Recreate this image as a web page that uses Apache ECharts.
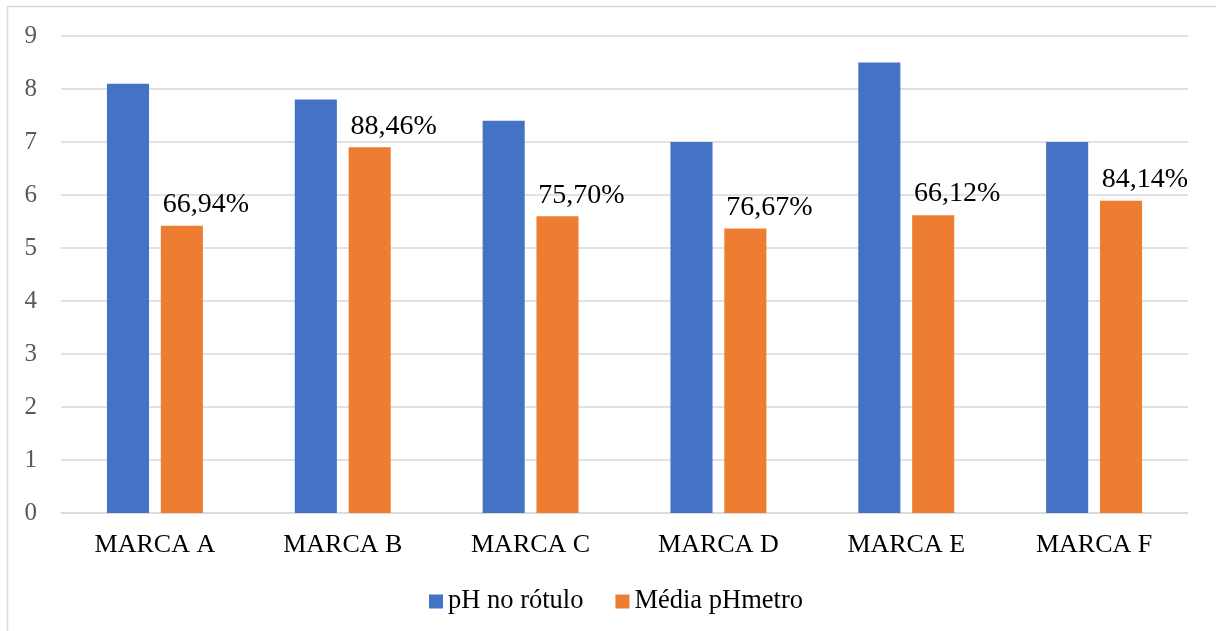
<!DOCTYPE html>
<html>
<head>
<meta charset="utf-8">
<script src="https://cdn.jsdelivr.net/npm/echarts@6/dist/echarts.min.js"></script>
<style>
  html, body { margin: 0; padding: 0; background: #fff; }
  #chart { width: 1216px; height: 631px; }
</style>
</head>
<body>
<div id="chart"></div>
<script>
// Brands compared
const categories = ['MARCA A', 'MARCA B', 'MARCA C', 'MARCA D', 'MARCA E', 'MARCA F'];
// pH declared on the label
const phRotulo = [8.1, 7.8, 7.4, 7.0, 8.5, 7.0];
// Mean pH measured with the pH meter
const phMedido = [5.42, 6.9, 5.6, 5.37, 5.62, 5.89];
// Measured as a share of the declared value
const percentLabels = ['66,94%', '88,46%', '75,70%', '76,67%', '66,12%', '84,14%'];
const yTicks = [0, 1, 2, 3, 4, 5, 6, 7, 8, 9];

const serif = '"Liberation Serif", "DejaVu Serif", serif';

const chart = echarts.init(document.getElementById('chart'), null, { renderer: 'canvas' });
chart.setOption({
  animation: false,
  backgroundColor: '#ffffff',
  graphic: [{
    type: 'rect',
    shape: { x: 7.5, y: 6.5, width: 1400, height: 800 },
    style: { fill: 'none', stroke: '#d9d9d9', lineWidth: 1.5 },
    silent: true
  }],
  grid: { left: 61, right: 28, top: 36, bottom: 118, containLabel: false },
  legend: {
    bottom: 16,
    left: 429,
    itemWidth: 14,
    itemHeight: 14,
    itemGap: 32,
    icon: 'rect',
    padding: 0,
    textStyle: { fontFamily: serif, fontSize: 26.5, color: '#000' },
    data: ['pH no rótulo', 'Média pHmetro']
  },
  xAxis: {
    type: 'category',
    data: categories,
    axisLine: { lineStyle: { color: '#d9d9d9', width: 1.5 } },
    axisTick: { show: false },
    axisLabel: { fontFamily: serif, fontSize: 26, color: '#000', margin: 19 }
  },
  yAxis: {
    type: 'value',
    min: yTicks[0],
    max: yTicks[yTicks.length - 1],
    interval: 1,
    axisLine: { show: false },
    axisTick: { show: false },
    splitLine: { lineStyle: { color: '#d9d9d9', width: 1.5 } },
    axisLabel: { fontFamily: serif, fontSize: 25, color: '#595959', margin: 24 }
  },
  series: [
    {
      name: 'pH no rótulo',
      type: 'bar',
      data: phRotulo,
      barWidth: '22.4%',
      barGap: '28%',
      itemStyle: { color: '#4472c4' }
    },
    {
      name: 'Média pHmetro',
      type: 'bar',
      data: phMedido,
      barWidth: '22.4%',
      itemStyle: { color: '#ed7d31' },
      label: {
        show: true,
        position: 'top',
        offset: [24, -2],
        fontFamily: serif,
        fontSize: 28,
        color: '#000',
        formatter: (p) => percentLabels[p.dataIndex]
      }
    }
  ]
});
</script>
</body>
</html>
